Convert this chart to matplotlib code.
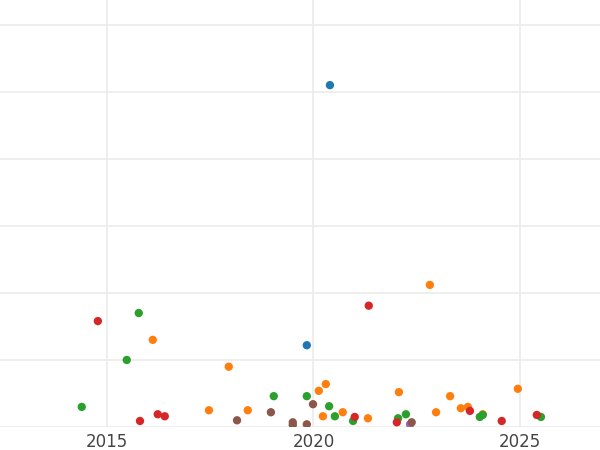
import matplotlib.pyplot as plt

# (year, value) per series
blue_x = [2020.40, 2019.84]
blue_y = [5.10, 1.22]
purple_x = [2022.34]
purple_y = [0.04]
orange_x = [2016.11, 2017.95, 2017.47, 2018.41, 2020.13, 2020.30, 2020.23, 2020.71,
            2021.32, 2022.07, 2022.82, 2022.97, 2023.31, 2023.57, 2023.74, 2024.10, 2024.95]
orange_y = [1.30, 0.90, 0.25, 0.25, 0.54, 0.64, 0.16, 0.22,
            0.13, 0.52, 2.12, 0.22, 0.46, 0.28, 0.30, 0.19, 0.57]
green_x = [2014.39, 2015.48, 2015.77, 2019.04, 2019.84, 2020.38, 2020.52, 2020.96,
           2022.05, 2022.24, 2024.03, 2024.10, 2025.51]
green_y = [0.30, 1.00, 1.70, 0.46, 0.46, 0.31, 0.16, 0.09,
           0.13, 0.19, 0.15, 0.18, 0.15]
red_x = [2014.78, 2015.80, 2016.23, 2016.40, 2021.00, 2021.34, 2022.02, 2023.79, 2024.56, 2025.41]
red_y = [1.58, 0.09, 0.19, 0.16, 0.15, 1.81, 0.07, 0.24, 0.09, 0.18]
brown_x = [2018.15, 2018.97, 2019.50, 2019.50, 2019.84, 2019.99, 2022.38]
brown_y = [0.10, 0.22, 0.07, 0.03, 0.04, 0.34, 0.07]

series = [
    (blue_x, blue_y, '#1f77b4'),
    (orange_x, orange_y, '#ff7f0e'),
    (green_x, green_y, '#2ca02c'),
    (red_x, red_y, '#d62728'),
    (purple_x, purple_y, '#9467bd'),
    (brown_x, brown_y, '#8c564b'),
]

fig = plt.figure(figsize=(6, 4.5), dpi=100)
ax = fig.add_axes([0, 23 / 450, 1, 427 / 450])
for xs, ys, c in series:
    ax.scatter(xs, ys, s=36, color=c, edgecolors='none', zorder=3)

ax.set_xlim(2012.41, 2026.94)
ax.set_ylim(0, 6.37)
ax.set_xticks([2015, 2020, 2025])
ax.set_yticks(range(0, 7))
ax.set_yticklabels([])
ax.grid(True, color='#ebebeb', linewidth=1.2, zorder=0)
ax.tick_params(axis='x', length=0, labelsize=12, colors='#444444', pad=4)
ax.tick_params(axis='y', length=0)
for s in ax.spines.values():
    s.set_visible(False)

fig.savefig('out.png', dpi=100)
